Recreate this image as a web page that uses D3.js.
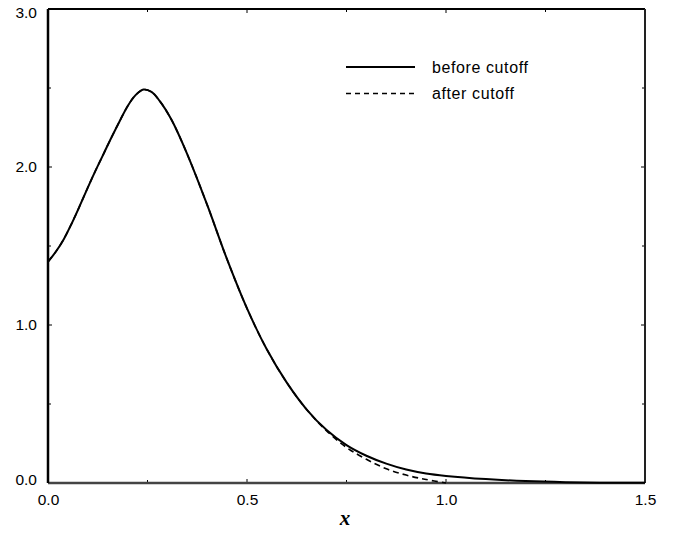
<!DOCTYPE html>
<html>
<head>
<meta charset="utf-8">
<script src="https://cdn.jsdelivr.net/npm/d3@7"></script>
<style>
  body { margin: 0; background: #fff; }
  svg text { font-family: "Liberation Sans", Arial, sans-serif; }
</style>
</head>
<body>
<div id="chart"></div>
<script>
// curve samples
const xValues = [0, 0.02, 0.04, 0.06, 0.08, 0.1, 0.12, 0.14, 0.16, 0.18, 0.2, 0.22, 0.24, 0.26, 0.28, 0.31, 0.35, 0.4, 0.45, 0.5, 0.55, 0.6, 0.65, 0.7, 0.75, 0.8, 0.85, 0.9, 0.95, 1.0, 1.1, 1.2, 1.3, 1.4, 1.5];
const beforeCutoff = [1.40, 1.465, 1.545, 1.645, 1.755, 1.87, 1.98, 2.085, 2.19, 2.29, 2.385, 2.455, 2.49, 2.475, 2.42, 2.30, 2.08, 1.76, 1.415, 1.105, 0.845, 0.635, 0.465, 0.335, 0.24, 0.1725, 0.1225, 0.085, 0.06, 0.045, 0.025, 0.012, 0.005, 0.002, 0.001];
const afterCutoff = [1.40, 1.465, 1.545, 1.645, 1.755, 1.87, 1.98, 2.085, 2.19, 2.29, 2.385, 2.455, 2.49, 2.475, 2.42, 2.30, 2.08, 1.76, 1.415, 1.105, 0.845, 0.635, 0.465, 0.33, 0.225, 0.15, 0.09, 0.05, 0.022, 0.0];

const xTicks = [0, 0.25, 0.5, 0.75, 1.0, 1.25, 1.5];
const xLabels = [0, 0.5, 1.0, 1.5];
const yTicks = [0, 0.5, 1.0, 1.5, 2.0, 2.5, 3.0];
const yLabels = [0, 1.0, 2.0, 3.0];
const seriesNames = ["before cutoff", "after cutoff"];

const W = 689, H = 533;
const margin = {top: 9, right: 44, bottom: 50, left: 48};
const width = W - margin.left - margin.right,
      height = H - margin.top - margin.bottom;

const svg = d3.select("#chart").append("svg")
    .attr("width", W)
    .attr("height", H);

const g = svg.append("g")
    .attr("transform", `translate(${margin.left},${margin.top})`);

const x = d3.scaleLinear().domain([0, 1.5]).range([0, width]);
const y = d3.scaleLinear().domain([0, 3]).range([height, 0]);

const isMajor = (v, labels) => labels.some(l => Math.abs(l - v) < 1e-9);

// ticks pointing inward on all four sides
xTicks.forEach(v => {
    const len = isMajor(v, xLabels) ? 4 : 3;
    g.append("line").attr("x1", x(v)).attr("x2", x(v))
        .attr("y1", height).attr("y2", height - len)
        .attr("stroke", "#000").attr("stroke-width", 1);
    g.append("line").attr("x1", x(v)).attr("x2", x(v))
        .attr("y1", 0).attr("y2", len)
        .attr("stroke", "#000").attr("stroke-width", 1);
});
yTicks.forEach(v => {
    const len = isMajor(v, yLabels) ? 4 : 3;
    g.append("line").attr("x1", 0).attr("x2", len)
        .attr("y1", y(v)).attr("y2", y(v))
        .attr("stroke", "#000").attr("stroke-width", 1);
    g.append("line").attr("x1", width).attr("x2", width - len)
        .attr("y1", y(v)).attr("y2", y(v))
        .attr("stroke", "#000").attr("stroke-width", 1);
});

// tick labels via d3 axes
const xAxis = d3.axisBottom(x).tickValues(xLabels).tickSize(0).tickPadding(11)
    .tickFormat(d3.format(".1f"));
const xg = g.append("g").attr("transform", `translate(0,${height})`).call(xAxis);
xg.select(".domain").remove();
xg.selectAll("text").style("font-size", "15.5px").attr("fill", "#000");

const yAxis = d3.axisLeft(y).tickValues(yLabels).tickSize(0).tickPadding(11)
    .tickFormat(d3.format(".1f"));
const yg = g.append("g").call(yAxis);
yg.select(".domain").remove();
yg.selectAll("text").style("font-size", "15.5px").attr("fill", "#000");
yg.selectAll(".tick").filter(d => d === 3).select("text").attr("dy", "0.55em");
yg.selectAll(".tick").filter(d => d === 0).select("text").attr("dy", "0.1em");

// frame
g.append("line").attr("x1", 0).attr("x2", width).attr("y1", height).attr("y2", height)
    .attr("stroke", "#444").attr("stroke-width", 2.5);
g.append("line").attr("x1", 0).attr("x2", width).attr("y1", 0).attr("y2", 0)
    .attr("stroke", "#000").attr("stroke-width", 2);
g.append("line").attr("x1", width).attr("x2", width).attr("y1", 0).attr("y2", height)
    .attr("stroke", "#222").attr("stroke-width", 2);
g.append("line").attr("x1", 0).attr("x2", 0).attr("y1", 0).attr("y2", height)
    .attr("stroke", "#000").attr("stroke-width", 2.5);

// curves
const line = d3.line()
    .x(d => x(d[0]))
    .y(d => y(d[1]))
    .curve(d3.curveCatmullRom.alpha(0.5));

g.append("path")
    .datum(xValues.map((v, i) => [v, beforeCutoff[i]]))
    .attr("d", line)
    .attr("fill", "none")
    .attr("stroke", "#000")
    .attr("stroke-width", 2);

g.append("path")
    .datum(afterCutoff.map((v, i) => [xValues[i], v]))
    .attr("d", line)
    .attr("fill", "none")
    .attr("stroke", "#000")
    .attr("stroke-width", 1.6)
    .attr("stroke-dasharray", "6,4");

// legend
const legend = g.append("g").attr("transform", `translate(${346 - margin.left},${67 - margin.top})`);
seriesNames.forEach((name, i) => {
    legend.append("line")
        .attr("x1", 0).attr("x2", 69)
        .attr("y1", i * 26.5).attr("y2", i * 26.5)
        .attr("stroke", "#000")
        .attr("stroke-width", i === 0 ? 2 : 1.3)
        .attr("stroke-dasharray", i === 0 ? null : "5,4");
    legend.append("text")
        .attr("x", 86)
        .attr("y", i * 26.5 + 5.5)
        .style("font-size", "16px")
        .style("letter-spacing", "0.6px")
        .text(name);
});

// axis title
svg.append("text")
    .attr("x", 345)
    .attr("y", 525)
    .attr("text-anchor", "middle")
    .style("font-family", "'Liberation Serif', 'Times New Roman', serif")
    .style("font-style", "italic")
    .style("font-weight", "bold")
    .style("font-size", "21px")
    .text("x");
</script>
</body>
</html>
